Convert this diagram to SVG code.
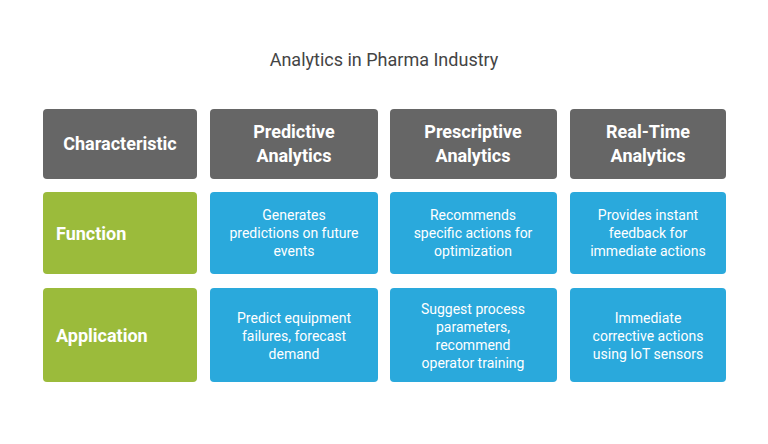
<svg xmlns="http://www.w3.org/2000/svg" width="768" height="444" viewBox="0 0 768 444">
<style>
.g{fill:#666666}.gr{fill:#9bbb3b}.b{fill:#2aa9dc}
.h{font-family:Roboto,"Liberation Sans",sans-serif;font-weight:bold;font-size:18px;fill:#fff;text-anchor:middle}
.l{font-family:Roboto,"Liberation Sans",sans-serif;font-weight:bold;font-size:18px;fill:#fff}
.t{font-family:Roboto,"Liberation Sans",sans-serif;font-size:14px;fill:#fff;text-anchor:middle}
</style>
<rect width="768" height="444" fill="#fff"/>
<text x="384" y="66" font-family="Roboto,'Liberation Sans',sans-serif" font-size="18" fill="#444" text-anchor="middle">Analytics in Pharma Industry</text>
<g id="h1"><rect class="g" x="43" y="109" width="154" height="70" rx="4"/><text class="h" x="120" y="150">Characteristic</text></g>
<g id="h2"><rect class="g" x="210" y="109" width="168" height="70" rx="4"/><text class="h" x="294" y="138">Predictive</text><text class="h" x="294" y="162">Analytics</text></g>
<g id="h3"><rect class="g" x="390" y="109" width="167" height="70" rx="4"/><text class="h" x="473" y="138">Prescriptive</text><text class="h" x="473" y="162">Analytics</text></g>
<g id="h4"><rect class="g" x="570" y="109" width="156" height="70" rx="4"/><text class="h" x="648" y="138">Real-Time</text><text class="h" x="648" y="162">Analytics</text></g>
<g id="r1"><rect class="gr" x="43" y="192" width="154" height="82" rx="4"/><text class="l" x="56" y="240">Function</text></g>
<g id="r1c2"><rect class="b" x="210" y="192" width="168" height="82" rx="4"/><text class="t" x="294" y="220">Generates</text><text class="t" x="294" y="238">predictions on future</text><text class="t" x="294" y="256">events</text></g>
<g id="r1c3"><rect class="b" x="390" y="192" width="167" height="82" rx="4"/><text class="t" x="473" y="220">Recommends</text><text class="t" x="473" y="238">specific actions for</text><text class="t" x="473" y="256">optimization</text></g>
<g id="r1c4"><rect class="b" x="570" y="192" width="156" height="82" rx="4"/><text class="t" x="648" y="220">Provides instant</text><text class="t" x="648" y="238">feedback for</text><text class="t" x="648" y="256">immediate actions</text></g>
<g id="r2"><rect class="gr" x="43" y="288" width="154" height="94" rx="4"/><text class="l" x="56" y="342">Application</text></g>
<g id="r2c2"><rect class="b" x="210" y="288" width="168" height="94" rx="4"/><text class="t" x="294" y="323">Predict equipment</text><text class="t" x="294" y="341">failures, forecast</text><text class="t" x="294" y="359">demand</text></g>
<g id="r2c3"><rect class="b" x="390" y="288" width="167" height="94" rx="4"/><text class="t" x="473" y="314">Suggest process</text><text class="t" x="473" y="332">parameters,</text><text class="t" x="473" y="350">recommend</text><text class="t" x="473" y="368">operator training</text></g>
<g id="r2c4"><rect class="b" x="570" y="288" width="156" height="94" rx="4"/><text class="t" x="648" y="323">Immediate</text><text class="t" x="648" y="341">corrective actions</text><text class="t" x="648" y="359">using IoT sensors</text></g>
<g id="connectors"/>
</svg>
